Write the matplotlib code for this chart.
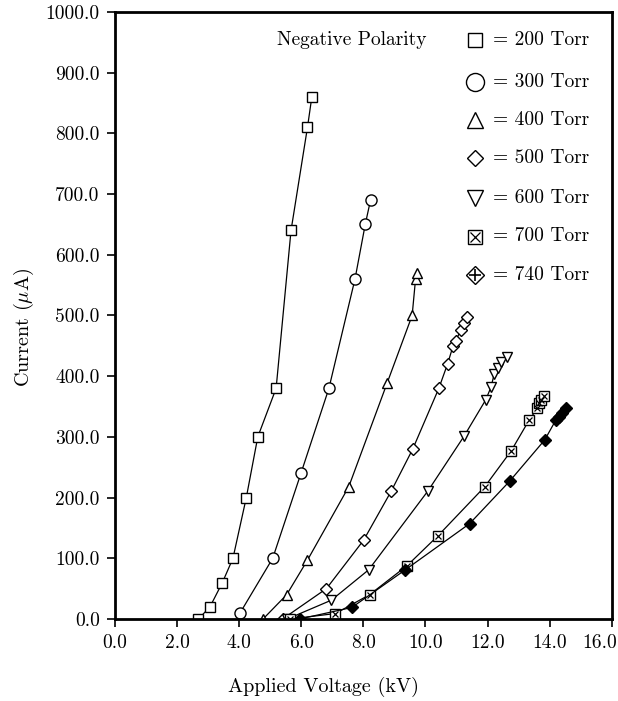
import matplotlib
matplotlib.use("Agg")
import matplotlib.pyplot as plt
import matplotlib.transforms as mtransforms

plt.rcParams["font.family"] = ["cmr10", "DejaVu Serif"]
plt.rcParams["mathtext.fontset"] = "cm"
plt.rcParams["axes.formatter.use_mathtext"] = True

# applied voltage (kV) and current (uA) for each pressure
v200 = [2.69, 3.06, 3.46, 3.80, 4.23, 4.60, 5.19, 5.67, 6.20, 6.34]
i200 = [0, 20, 60, 100, 200, 300, 380, 640, 810, 860]

v300 = [4.03, 5.08, 5.99, 6.89, 7.73, 8.06, 8.23]
i300 = [10, 100, 240, 380, 560, 650, 690]

v400 = [4.77, 5.53, 6.20, 7.53, 8.76, 9.57, 9.68, 9.73]
i400 = [0, 40, 97, 218, 388, 500, 560, 570]

v500 = [5.40, 6.81, 8.01, 8.89, 9.59, 10.43, 10.71, 10.89, 10.97, 11.14, 11.24, 11.34]
i500 = [0, 50, 130, 210, 280, 380, 420, 450, 458, 476, 487, 498]

v600 = [5.55, 6.97, 8.17, 10.08, 11.24, 11.94, 12.11, 12.21, 12.32, 12.44, 12.61]
i600 = [0, 31, 81, 211, 301, 361, 382, 403, 414, 423, 431]

v700 = [5.65, 7.10, 8.20, 9.41, 10.40, 11.91, 12.76, 13.33, 13.60, 13.66, 13.71, 13.82]
i700 = [0, 9, 40, 88, 137, 218, 277, 327, 347, 355, 361, 367]

v740 = [5.95, 7.63, 9.35, 11.42, 12.71, 13.84, 14.19, 14.30, 14.41, 14.52]
i740 = [0, 19, 81, 157, 227, 295, 327, 333, 340, 347]

labels = ["= 200 Torr", "= 300 Torr", "= 400 Torr", "= 500 Torr",
          "= 600 Torr", "= 700 Torr", "= 740 Torr"]
xticks = [0, 2, 4, 6, 8, 10, 12, 14, 16]
yticks = [0, 100, 200, 300, 400, 500, 600, 700, 800, 900, 1000]

fs = 14

fig = plt.figure(figsize=(6.18, 7.01), dpi=100)
ax = fig.add_axes([0.186, 0.117, 0.804, 0.866])

mk = dict(color="black", markerfacecolor="white", markeredgecolor="black",
          lw=0.9, markeredgewidth=1.0)

ax.plot(v200, i200, marker="s", ms=7, **mk)
ax.plot(v300, i300, marker="o", ms=8, **mk)
ax.plot(v400, i400, marker="^", ms=7, **mk)
ax.plot(v500, i500, marker="D", ms=6.5, **mk)
ax.plot(v600, i600, marker="v", ms=7, **mk)
ax.plot(v700, i700, marker="s", ms=7, **mk)
ax.plot(v700, i700, ls="none", marker="x", ms=5, mec="black", mew=0.9)
ax.plot(v740, i740, color="black", lw=0.9, marker="D", ms=6,
        mfc="black", mec="black")
ax.plot(v740, i740, ls="none", marker="+", ms=7, mec="black", mew=1.0)

# legend drawn as text block like the original
ax.text(0.477, 0.954, "Negative Polarity", transform=ax.transAxes,
        ha="center", va="center", fontsize=fs)
rows = [0.954, 0.885, 0.822, 0.759, 0.694, 0.630, 0.567]
leg_mk = [("s", 10), ("o", 13), ("^", 11), ("D", 8), ("v", 11), ("s", 9.5), ("D", 9)]
for y, (m, s), lab in zip(rows, leg_mk, labels):
    ax.plot([0.724], [y], transform=ax.transAxes, marker=m, ms=s,
            mfc="white", mec="black", mew=1.0, clip_on=False)
    ax.text(0.761, y, lab, transform=ax.transAxes, ha="left", va="center",
            fontsize=fs)
ax.plot([0.724], [rows[5]], transform=ax.transAxes, marker="x", ms=7,
        mec="black", mew=0.9)
ax.plot([0.724], [rows[6]], transform=ax.transAxes, marker="+", ms=9,
        mec="black", mew=1.2)

ax.set_xlim(0, 16)
ax.set_ylim(0, 1000)
ax.set_xticks(xticks)
ax.set_yticks(yticks)
ax.set_xticklabels([f"{t:.1f}" for t in xticks], fontsize=fs)
ax.set_yticklabels([f"{t:.1f}" for t in yticks], fontsize=fs)
ax.tick_params(direction="out", length=6, width=1.2, pad=5)

last = ax.get_xticklabels()[-1]
last.set_transform(last.get_transform() +
                   mtransforms.ScaledTranslation(-12 / 100, 0, fig.dpi_scale_trans))

for sp in ax.spines.values():
    sp.set_linewidth(2.0)

ax.set_xlabel("Applied Voltage (kV)", fontsize=fs + 0.5)
ax.xaxis.set_label_coords(0.42, -0.095)
ax.set_ylabel(r"Current ($\mu$A)", fontsize=fs + 0.5)
ax.yaxis.set_label_coords(-0.158, 0.48)

fig.savefig("out.png", dpi=100)
